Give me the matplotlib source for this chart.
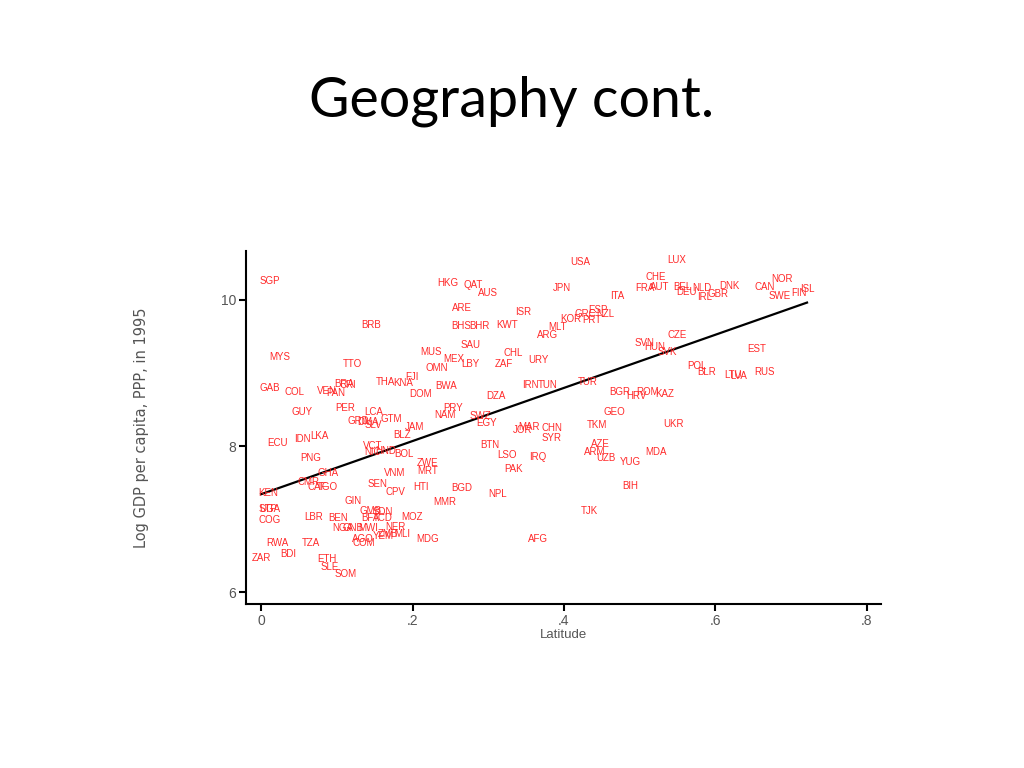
import matplotlib
matplotlib.use("Agg")
import matplotlib.pyplot as plt
import numpy as np

# country codes, latitude (abs, scaled 0-1) and log GDP per capita 1995
codes = ['SGP', 'HKG', 'QAT', 'AUS', 'USA', 'LUX', 'CHE', 'FRA', 'AUT', 'BEL',
         'NLD', 'DEU', 'IRL', 'GBR', 'DNK', 'CAN', 'NOR', 'SWE', 'FIN', 'ISL',
         'JPN', 'ITA', 'ARE', 'ISR', 'ESP', 'GRC', 'NZL', 'KOR', 'PRT', 'BHS',
         'BHR', 'KWT', 'MLT', 'ARG', 'BRB', 'CZE', 'SVN', 'HUN', 'SVK', 'SAU',
         'CHL', 'URY', 'MUS', 'MEX', 'LBY', 'ZAF', 'OMN', 'TTO', 'MYS', 'EST',
         'POL', 'BLR', 'LTU', 'LVA', 'RUS', 'FJI', 'THA', 'KNA', 'BWA', 'BRA',
         'CRI', 'VEN', 'PAN', 'GAB', 'COL', 'IRN', 'TUN', 'TUR', 'DZA', 'DOM',
         'BGR', 'ROM', 'HRV', 'KAZ', 'PER', 'GUY', 'LCA', 'PRY', 'NAM', 'GEO',
         'GRD', 'DMA', 'SLV', 'GTM', 'JAM', 'SWZ', 'EGY', 'MAR', 'JOR', 'CHN',
         'SYR', 'TKM', 'UKR', 'BLZ', 'LKA', 'IDN', 'ECU', 'BTN', 'AZE', 'ARM',
         'UZB', 'MDA', 'YUG', 'VCT', 'NIC', 'HND', 'BOL', 'LSO', 'IRQ', 'PNG',
         'ZWE', 'MRT', 'PAK', 'GHA', 'VNM', 'CMR', 'CAF', 'TGO', 'KEN', 'SEN',
         'CPV', 'HTI', 'BGD', 'NPL', 'BIH', 'GIN', 'MMR', 'GMB', 'SDN', 'BFA',
         'TCD', 'MOZ', 'UGA', 'STP', 'COG', 'LBR', 'BEN', 'NGA', 'GNB', 'MWI',
         'NER', 'AGO', 'COM', 'YEM', 'ZMB', 'MLI', 'MDG', 'AFG', 'TJK', 'RWA',
         'TZA', 'BDI', 'ZAR', 'ETH', 'SLE', 'SOM']

latitude = [0.012, 0.246, 0.280, 0.300, 0.421, 0.549, 0.521, 0.507, 0.527, 0.557,
            0.582, 0.562, 0.586, 0.603, 0.619, 0.665, 0.688, 0.685, 0.710, 0.721,
            0.397, 0.471, 0.265, 0.346, 0.445, 0.428, 0.455, 0.409, 0.437, 0.264,
            0.289, 0.325, 0.392, 0.378, 0.145, 0.549, 0.507, 0.520, 0.537, 0.277,
            0.333, 0.366, 0.224, 0.255, 0.277, 0.321, 0.232, 0.121, 0.025, 0.655,
            0.576, 0.589, 0.623, 0.631, 0.665, 0.199, 0.164, 0.187, 0.244, 0.110,
            0.114, 0.087, 0.099, 0.011, 0.044, 0.355, 0.379, 0.432, 0.310, 0.210,
            0.474, 0.510, 0.496, 0.533, 0.111, 0.054, 0.149, 0.253, 0.243, 0.466,
            0.128, 0.141, 0.148, 0.172, 0.202, 0.289, 0.298, 0.354, 0.345, 0.384,
            0.384, 0.444, 0.544, 0.186, 0.077, 0.054, 0.021, 0.302, 0.448, 0.441,
            0.455, 0.521, 0.488, 0.147, 0.147, 0.164, 0.189, 0.325, 0.366, 0.066,
            0.220, 0.220, 0.333, 0.088, 0.176, 0.062, 0.074, 0.088, 0.009, 0.154,
            0.177, 0.211, 0.265, 0.312, 0.488, 0.121, 0.243, 0.144, 0.160, 0.144,
            0.160, 0.199, 0.011, 0.009, 0.011, 0.069, 0.102, 0.108, 0.121, 0.141,
            0.177, 0.135, 0.135, 0.161, 0.168, 0.186, 0.220, 0.366, 0.433, 0.021,
            0.066, 0.036, 0.000, 0.087, 0.091, 0.111]

log_gdp = [10.26, 10.23, 10.21, 10.10, 10.52, 10.55, 10.32, 10.16, 10.18, 10.18,
           10.16, 10.11, 10.04, 10.08, 10.19, 10.18, 10.29, 10.05, 10.10, 10.15,
           10.16, 10.05, 9.89, 9.84, 9.86, 9.81, 9.81, 9.74, 9.73, 9.64,
           9.64, 9.66, 9.63, 9.52, 9.66, 9.52, 9.41, 9.36, 9.29, 9.38,
           9.27, 9.18, 9.29, 9.19, 9.12, 9.12, 9.07, 9.12, 9.22, 9.33,
           9.10, 9.01, 8.97, 8.96, 9.01, 8.95, 8.88, 8.86, 8.82, 8.85,
           8.84, 8.75, 8.73, 8.79, 8.74, 8.84, 8.84, 8.88, 8.68, 8.71,
           8.74, 8.74, 8.68, 8.71, 8.52, 8.47, 8.47, 8.52, 8.42, 8.47,
           8.34, 8.33, 8.29, 8.37, 8.26, 8.41, 8.32, 8.26, 8.22, 8.25,
           8.11, 8.29, 8.30, 8.15, 8.14, 8.10, 8.04, 8.01, 8.03, 7.92,
           7.84, 7.92, 7.78, 8.00, 7.92, 7.93, 7.89, 7.88, 7.85, 7.84,
           7.77, 7.66, 7.68, 7.63, 7.63, 7.51, 7.44, 7.44, 7.36, 7.48,
           7.37, 7.44, 7.42, 7.34, 7.45, 7.25, 7.23, 7.11, 7.10, 7.01,
           7.01, 7.03, 7.14, 7.14, 6.99, 7.03, 7.01, 6.88, 6.88, 6.88,
           6.89, 6.73, 6.67, 6.77, 6.79, 6.79, 6.73, 6.73, 7.11, 6.67,
           6.67, 6.52, 6.47, 6.45, 6.34, 6.25]

# fitted line
fit_intercept = 7.34
fit_slope = 3.64

x_ticks = [0, 0.2, 0.4, 0.6, 0.8]
x_tick_labels = ['0', '.2', '.4', '.6', '.8']
y_ticks = [6, 8, 10]
y_tick_labels = ['6', '8', '10']

fig = plt.figure(figsize=(10.24, 7.68), dpi=100)
fig.text(0.5, 0.868, 'Geography cont.', ha='center', va='center',
         fontsize=40, family='Lato')

ax = fig.add_axes([0.2402, 0.2135, 0.620, 0.4596])

for c, x, y in zip(codes, latitude, log_gdp):
    ax.text(x, y, c, ha='center', va='center', fontsize=7,
            color='#ff2a2a', family='Liberation Sans')

xs = np.array([min(latitude), max(latitude)])
ax.plot(xs, fit_intercept + fit_slope * xs, color='black', lw=1.6)

ax.set_xlim(-0.02, 0.8185)
ax.set_ylim(5.836, 10.67)
ax.set_xticks(x_ticks)
ax.set_xticklabels(x_tick_labels)
ax.set_yticks(y_ticks)
ax.set_yticklabels(y_tick_labels)
ax.spines['top'].set_visible(False)
ax.spines['right'].set_visible(False)
for s in ['left', 'bottom']:
    ax.spines[s].set_linewidth(1.5)
ax.tick_params(direction='out', length=5, width=1.5, labelsize=10,
               labelcolor='#555555', pad=2)
for t in ax.get_xticklabels() + ax.get_yticklabels():
    t.set_family('Liberation Sans')

ax.set_xlabel('Latitude', fontsize=9.5, color='#555555', family='Liberation Sans',
              labelpad=1)
ax.set_ylabel('Log GDP per capita, PPP, in 1995', fontsize=10.5, color='#555555',
              family='DejaVu Sans', labelpad=52)

fig.savefig('out.png', dpi=100)
